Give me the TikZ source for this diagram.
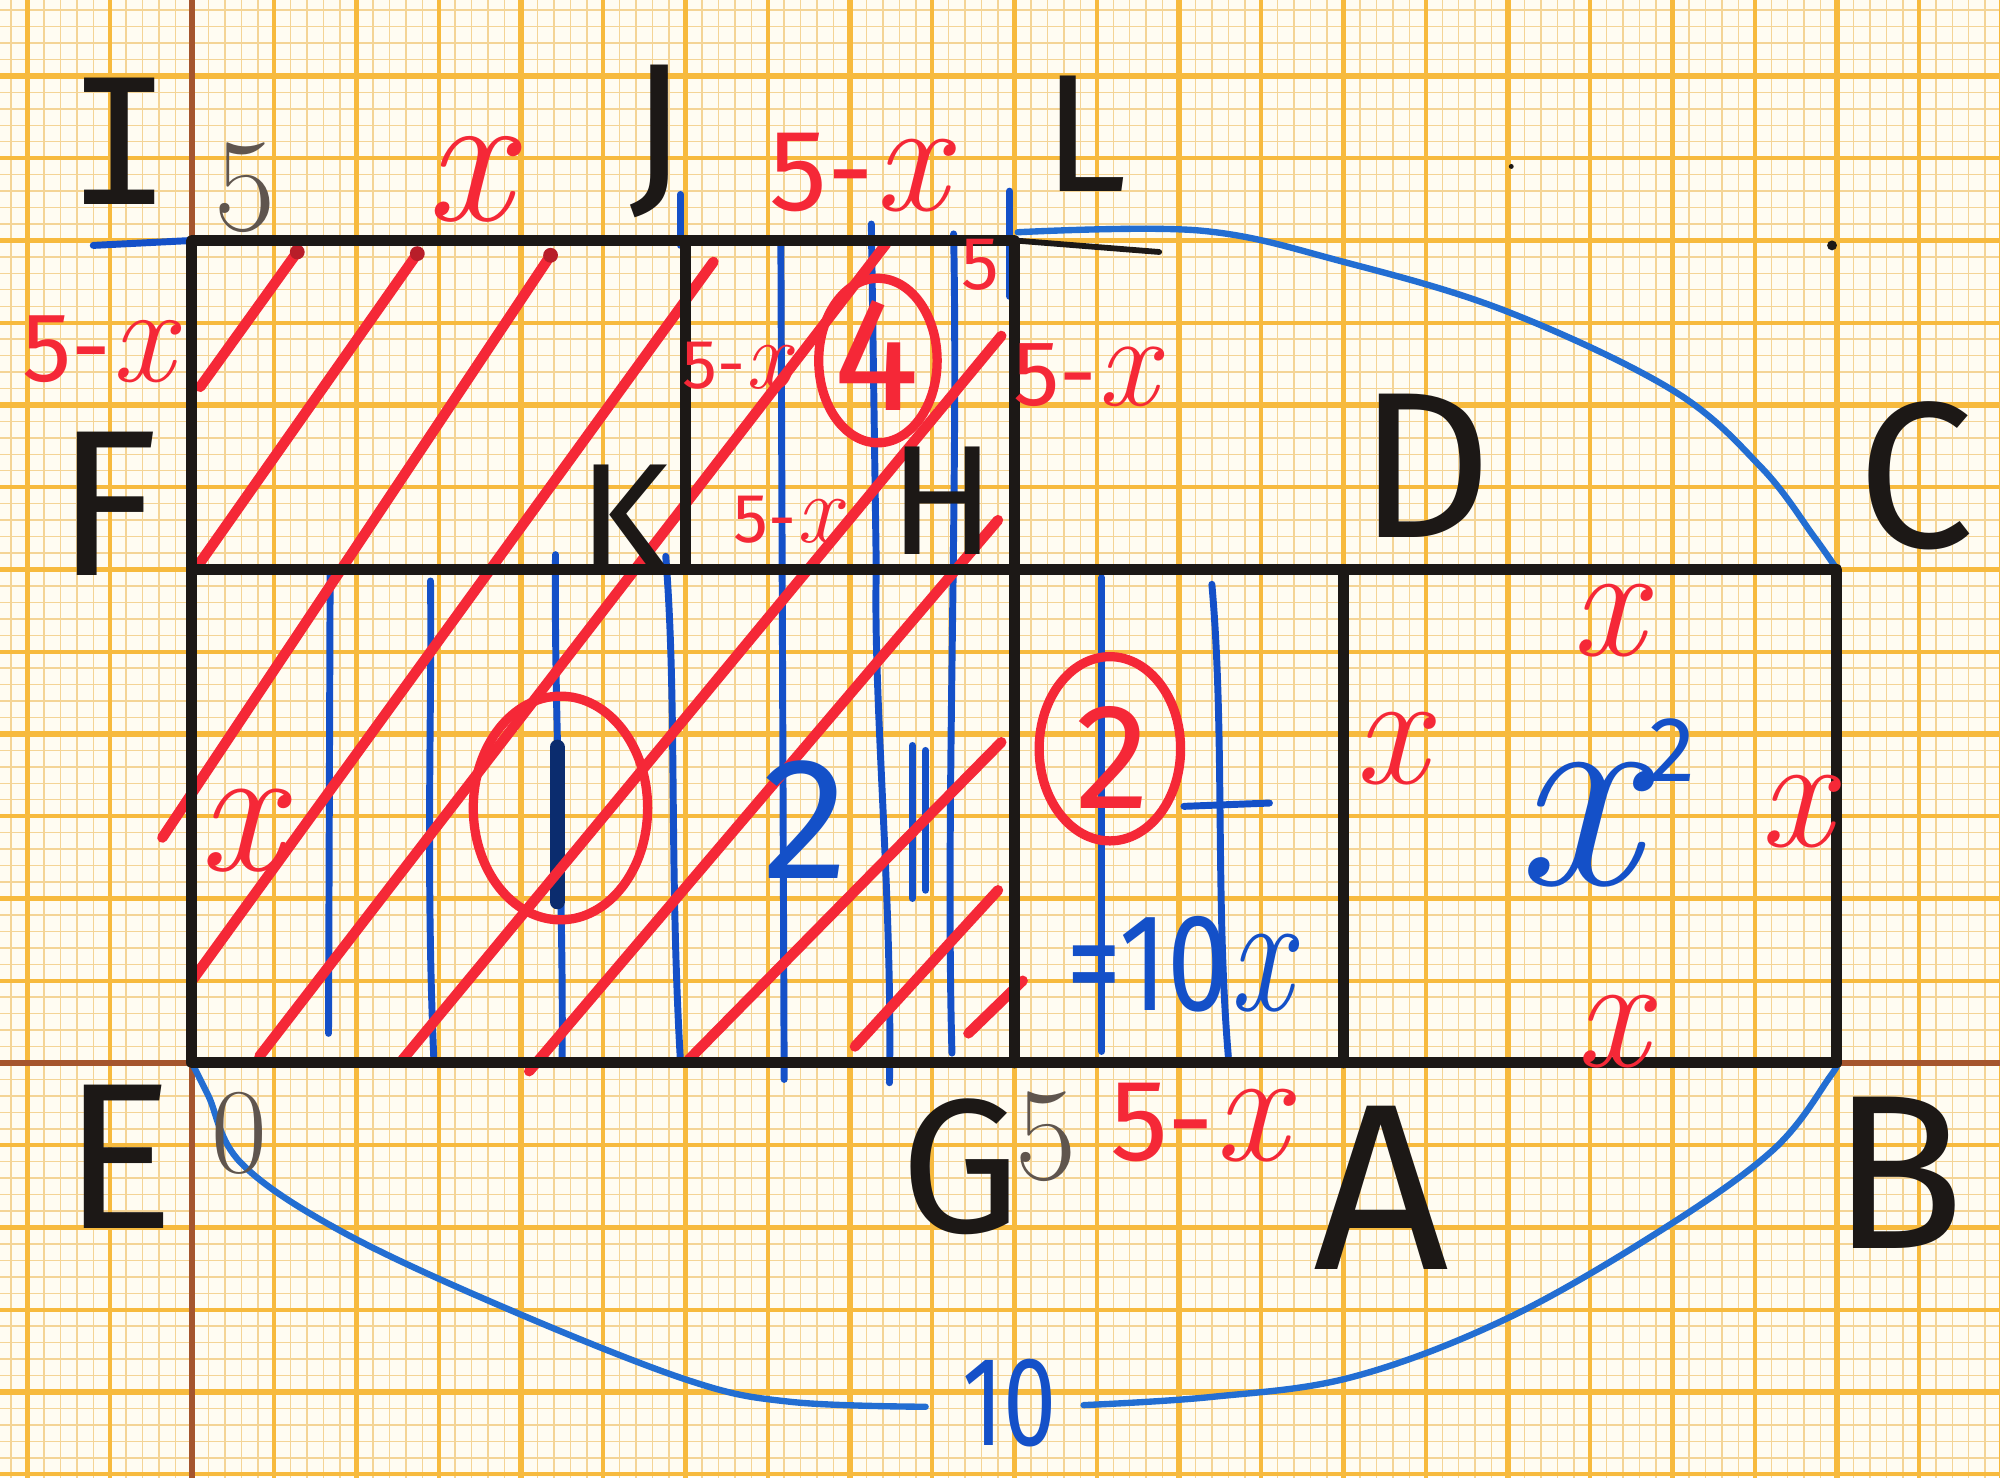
\documentclass[tikz,border=0pt]{standalone}
\usepackage{fontspec}
\newfontfamily\hand{Fira Sans}
\newfontfamily\handmono{DejaVu Sans Mono}
\newcommand{\fsz}[1]{\fontsize{#1}{#1}\selectfont}
\newcommand{\hx}[1]{{\rmfamily\itshape\fsz{#1}x}}
\definecolor{paper}{RGB}{255,252,242}
\definecolor{gridmin}{RGB}{244,212,150}
\definecolor{gridmaj}{RGB}{247,186,62}
\definecolor{axisbrown}{RGB}{165,85,45}
\definecolor{penred}{RGB}{245,40,55}
\definecolor{penblue}{RGB}{20,80,200}
\definecolor{curveblue}{RGB}{35,110,210}
\definecolor{ink}{RGB}{28,24,22}
\definecolor{pencil}{RGB}{95,85,78}

\begin{document}
\begin{tikzpicture}[
    inkline/.style={draw=ink, line width=1.9pt, line cap=round, line join=round},
    hatch/.style={draw=penred, line width=1.8pt, line cap=round},
    bluev/.style={draw=penblue, line width=1.2pt, line cap=round},
    arcten/.style={draw=curveblue, line width=1.1pt, line cap=round},
    ring/.style={draw=penred, line width=1.6pt},
    letter/.style={text=ink, inner sep=0pt, font=\hand\fsz{#1}},
    redlab/.style={text=penred, inner sep=0pt, font=\hand\fsz{#1}},
    bluelab/.style={text=penblue, inner sep=0pt, font=\hand\fsz{#1}},
    pencilnum/.style={text=pencil, inner sep=0pt, font=\rmfamily\fsz{#1}}
]
\useasboundingbox (-1.167,-2.517) rectangle (10.991,6.462);
% graph paper
\fill[paper] (-1.167,-2.517) rectangle (10.991,6.462);
\draw[gridmin, line width=0.25pt] (-1.2,-2.6) grid[step=0.1] (11.1,6.5);
\draw[gridmaj, line width=0.7pt] (-1.5,-3) grid[step=0.5] (11.1,6.5);
\draw[gridmaj, line width=0.9pt] (-2,-3) grid[step=1] (11.1,6.5);
\draw[axisbrown, line width=1.1pt] (0,-2.6) -- (0,6.5) (-1.2,0) -- (11.1,0);

% corners
\coordinate (E) at (0,0);  \coordinate (G) at (5,0);
\coordinate (A) at (7,0);  \coordinate (B) at (10,0);
\coordinate (F) at (0,3);  \coordinate (K) at (3,3);
\coordinate (H) at (5,3);  \coordinate (D) at (7,3);
\coordinate (C) at (10,3); \coordinate (I) at (0,5);
\coordinate (J) at (3,5);  \coordinate (L) at (5,5);

% blue strokes
\draw[bluev] (0.83,0.18) -- (0.84,3.0);
\draw[bluev] (1.47,0.03) .. controls (1.42,1.2) and (1.46,2.2) .. (1.45,2.93);
\draw[bluev] (2.25,0.0) .. controls (2.26,1.0) and (2.2,2.2) .. (2.21,3.09);
\draw[bluev] (2.97,0.0) .. controls (2.9,1.2) and (2.95,2.2) .. (2.88,3.08);
\draw[bluev] (3.6,-0.1) -- (3.58,4.98);
\draw[bluev] (4.24,-0.12) .. controls (4.26,1.0) and (4.14,2.2) .. (4.16,3.0) -- (4.13,5.1);
\draw[bluev] (4.62,0.06) .. controls (4.58,1.5) and (4.66,3.5) .. (4.63,5.04);
\draw[bluev] (4.38,1.0) -- (4.38,1.93);
\draw[bluev] (4.46,1.05) -- (4.46,1.9);
\draw[bluev] (4.97,4.66) -- (4.97,5.3);
\draw[bluev] (2.97,4.97) -- (2.97,5.28);
\draw[bluev] (5.53,0.07) -- (5.53,2.95);
\draw[bluev] (6.3,0.04) .. controls (6.22,1.0) and (6.28,2.0) .. (6.2,2.91);
\draw[bluev] (6.03,1.56) -- (6.55,1.58);
\draw[bluev] (-0.6,4.97) -- (I);
\draw[draw=penblue!55!black, line width=2.6pt, line cap=round] (2.22,0.98) -- (2.22,1.92);

% blue measuring curves
\draw[arcten] plot[smooth, tension=0.6] coordinates {(5.02,5.05) (6.13,5.06) (7.0,4.87) (7.99,4.57) (9.0,4.09) (9.54,3.62) (9.86,3.2) (C)};
\draw[arcten] plot[smooth, tension=0.6] coordinates {(E) (0.1,-0.2) (0.30,-0.61) (0.92,-1.03) (1.93,-1.5) (3.02,-1.93) (3.64,-2.06) (4.46,-2.09)};
\draw[arcten] plot[smooth, tension=0.6] coordinates {(5.42,-2.08) (6.2,-2.03) (7.05,-1.91) (7.98,-1.56) (8.91,-1.03) (9.61,-0.53) (9.96,-0.08) (B)};

% red hatching
\draw[hatch] (0.05,4.11) -- (0.64,4.93);
\draw[hatch] (0.02,3.00) -- (1.37,4.92);
\draw[hatch] (-0.18,1.37) -- (2.18,4.91);
\draw[hatch] (0.0,0.50) -- (3.17,4.87);
\draw[hatch] (0.41,0.04) -- (4.22,4.98);
\draw[hatch] (1.28,0.02) -- (4.92,4.42);
\draw[hatch] (2.05,-0.05) -- (4.9,3.3);
\draw[hatch] (3.02,0.02) -- (4.92,1.95);
\draw[hatch] (4.03,0.1) -- (4.9,1.05);
\draw[hatch] (4.72,0.18) -- (5.05,0.5);
\foreach \p in {(0.64,4.93),(1.37,4.92),(2.18,4.91)}
    \fill[penred!75!black] \p circle (0.045);

% rings
\draw[ring] (2.24,1.55) ellipse [x radius=0.53, y radius=0.68];
\draw[ring] (5.58,1.91) ellipse [x radius=0.43, y radius=0.56];
\draw[ring] (4.17,4.27) ellipse [x radius=0.36, y radius=0.5];

% rectangles
\draw[inkline] (E) rectangle (C);
\draw[inkline] (F) -- (I) -- (L) -- (G);
\draw[inkline] (J) -- (K);
\draw[inkline] (A) -- (D);
\draw[ink, line width=1pt, line cap=round] (L) -- (5.88,4.93);
\fill[ink] (9.97,4.97) circle (0.03);
\fill[ink] (8.02,5.45) circle (0.015);

% point letters
\node[text=ink, inner sep=0pt, font=\handmono\fsz{30}] (lI) at (-0.44,5.6) {I};
\node[letter=32] (lJ) at (2.83,5.6) {J};
\node[letter=29] (lL) at (5.43,5.65) {L};
\node[letter=36] (lF) at (-0.51,3.40) {F};
\node[letter=27] (lK) at (2.63,3.31) {K};
\node[letter=27] (lH) at (4.56,3.42) {H};
\node[letter=36] (lD) at (7.5,3.63) {D};
\node[letter=36] (lC) at (10.48,3.57) {C};
\node[letter=36] (lE) at (-0.44,-0.57) {E};
\node[letter=33] (lG) at (4.67,-0.63) {G};
\node[letter=41] (lA) at (7.23,-0.76) {A};
\node[letter=38] (lB) at (10.37,-0.67) {B};

% pencil marks
\node[pencilnum=23] (pfive) at (0.32,5.32) {5};
\node[pencilnum=21] (pzero) at (0.29,-0.43) {0};
\node[pencilnum=23] (gfive) at (5.19,-0.45) {5};

% red labels
\node[redlab=20] (xtop) at (1.68,5.37) {\hx{33}};
\node[redlab=20] (ftop) at (4.05,5.41) {5-\hx{28}};
\node[redlab=17] (fleft) at (-0.57,4.34) {5-\hx{24}};
\node[redlab=16] (fright) at (5.43,4.18) {5-\hx{23}};
\node[redlab=20] (fbot) at (6.12,-0.36) {5-\hx{28}};
\node[redlab=12] (fin) at (3.31,4.24) {5-\hx{17}};
\node[redlab=12] (fin2) at (3.62,3.3) {5-\hx{17}};
\node[redlab=13] (fcorner) at (4.79,4.85) {5};
\node[redlab=20] (xin) at (0.29,1.41) {\hx{32}};
\node[redlab=20] (xsqt) at (8.61,2.69) {\hx{28}};
\node[redlab=20] (xsql) at (7.29,1.91) {\hx{28}};
\node[redlab=20] (xsqr) at (9.75,1.53) {\hx{28}};
\node[redlab=20] (xsqb) at (8.63,0.19) {\hx{28}};
\node[redlab=26] (rtwo) at (5.6,1.86) {2};
\node[redlab=28] (rfour) at (4.16,4.3) {4};

% blue labels
\node[bluelab=30] (btwo) at (3.73,1.48) {2};
\node[bluelab=24, xscale=0.8] (tenx) at (6.0,0.6) {=10\hx{30}};
\node[text=penblue, inner sep=0pt, font=\rmfamily\itshape\fsz{48}] (xsq) at (8.42,1.45) {x};
\node[bluelab=16] (sq) at (9.0,1.9) {2};
\node[bluelab=22, xscale=0.75] (ten) at (4.97,-2.07) {10};
\end{tikzpicture}
\end{document}
